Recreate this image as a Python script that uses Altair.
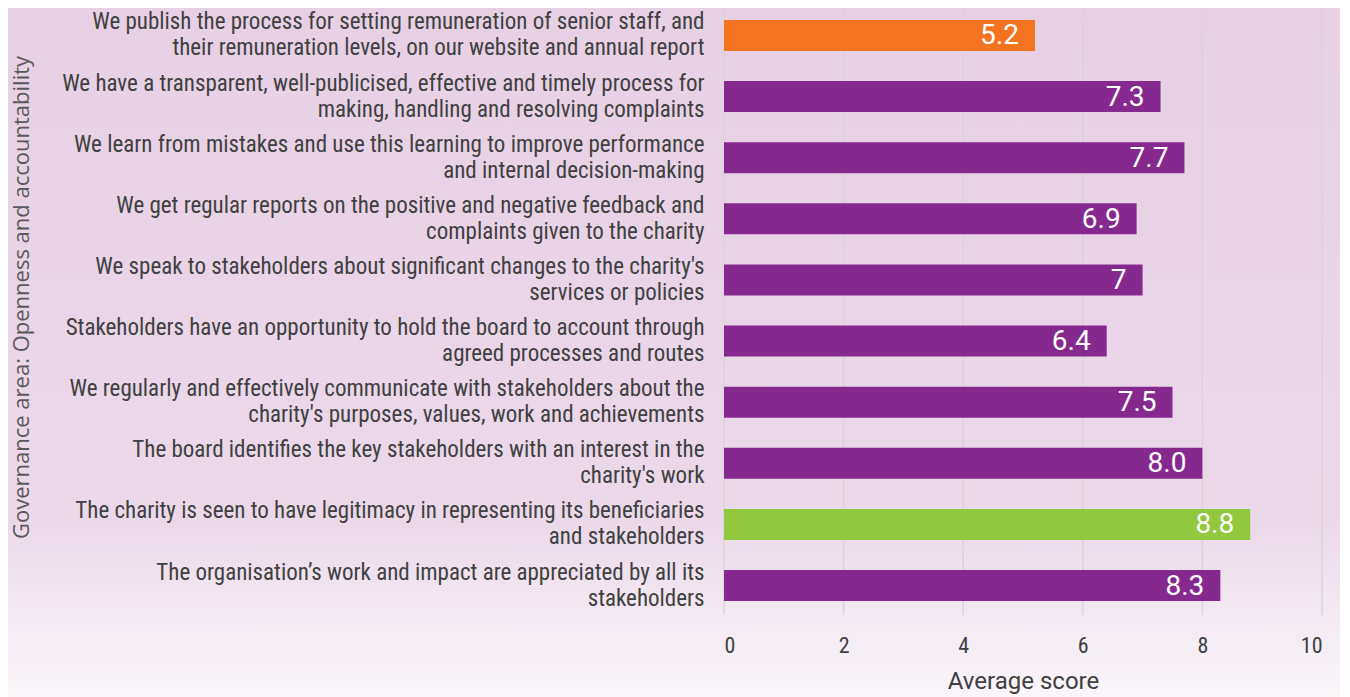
import altair as alt
import pandas as pd

labels = [
    "We publish the process for setting remuneration of senior staff, and|their remuneration levels, on our website and annual report",
    "We have a transparent, well-publicised, effective and timely process for|making, handling and resolving complaints",
    "We learn from mistakes and use this learning to improve performance|and internal decision-making",
    "We get regular reports on the positive and negative feedback and|complaints given to the charity",
    "We speak to stakeholders about significant changes to the charity's|services or policies",
    "Stakeholders have an opportunity to hold the board to account through|agreed processes and routes",
    "We regularly and effectively communicate with stakeholders about the|charity's purposes, values, work and achievements",
    "The board identifies the key stakeholders with an interest in the|charity's work",
    "The charity is seen to have legitimacy in representing its beneficiaries|and stakeholders",
    "The organisation\u2019s work and impact are appreciated by all its|stakeholders",
]
scores = [5.2, 7.3, 7.7, 6.9, 7.0, 6.4, 7.5, 8.0, 8.8, 8.3]
score_text = ["5.2", "7.3", "7.7", "6.9", "7", "6.4", "7.5", "8.0", "8.8", "8.3"]
bar_colors = ["#F37321", "#86298E", "#86298E", "#86298E", "#86298E",
              "#86298E", "#86298E", "#86298E", "#92C83E", "#86298E"]
x_ticks = [0, 2, 4, 6, 8, 10]

df = pd.DataFrame({"label": labels, "score": scores, "txt": score_text, "col": bar_colors})
grid_df = pd.DataFrame({"v": x_ticks})

FONT = "Liberation Sans Narrow, Roboto Condensed, Roboto, sans-serif"

bg = alt.Chart(pd.DataFrame({"k": [0]})).mark_rect(
    clip=False,
    fill=alt.Gradient(
        gradient="linear", x1=0, x2=0, y1=0, y2=1,
        stops=[alt.GradientStop(offset=0, color="#E7D0E4"),
               alt.GradientStop(offset=0.75, color="#EBD9EA"),
               alt.GradientStop(offset=1, color="#FAF6FA")],
    ),
).encode(x=alt.value(-724), x2=alt.value(626), y=alt.value(-8), y2=alt.value(689))

grid = alt.Chart(grid_df).mark_rule(color="#D9D3D9", strokeWidth=1.5).encode(
    x=alt.X("v:Q", scale=alt.Scale(domain=[0, 10])),
    y=alt.value(-8), y2=alt.value(607),
)

y_enc = alt.Y(
    "label:N", sort=labels,
    scale=alt.Scale(paddingInner=0.493, paddingOuter=0.196),
    axis=alt.Axis(
        title="Governance area: Openness and accountability",
        labelExpr="split(datum.label, '|')",
        labelFont=FONT, labelFontSize=23, labelColor="#404040",
        labelLineHeight=26, labelPadding=20, labelLimit=710, labelOffset=-13,
        ticks=False, domain=False, grid=False, zindex=1,
        titleFont="Open Sans", titleFontSize=22, titleFontWeight="normal",
        titleColor="#595959", titleX=-703, titleY=289, titleAngle=270,
        titleAlign="center", titleBaseline="middle",
    ),
)

x_enc = alt.X(
    "score:Q",
    scale=alt.Scale(domain=[0, 10]),
    axis=alt.Axis(
        values=x_ticks, format="d", title="Average score",
        labelFont=FONT, labelFontSize=22, labelColor="#404040", labelPadding=22,
        titleFont="Roboto", titleFontSize=24, titleFontWeight="normal",
        titleColor="#404040", titlePadding=13,
        ticks=False, domain=False, grid=False, zindex=1,
    ),
)

bars = alt.Chart(df).mark_bar().encode(
    x=x_enc, y=y_enc, color=alt.Color("col:N", scale=None)
)

text = alt.Chart(df).mark_text(
    align="right", baseline="middle", dx=-16, dy=1, color="white",
    font="Roboto", fontSize=28,
).encode(x="score:Q", y=alt.Y("label:N", sort=labels), text="txt:N")

chart = alt.layer(bg, grid, bars, text).properties(
    width=598, height=605,
    autosize=alt.AutoSizeParams(type="none"),
    padding={"left": 716, "top": 0, "right": 18, "bottom": 84},
    background="#E7D0E4",
).configure_view(strokeWidth=0)

chart.save("out.html", embed_options={"renderer": "svg", "actions": False})
